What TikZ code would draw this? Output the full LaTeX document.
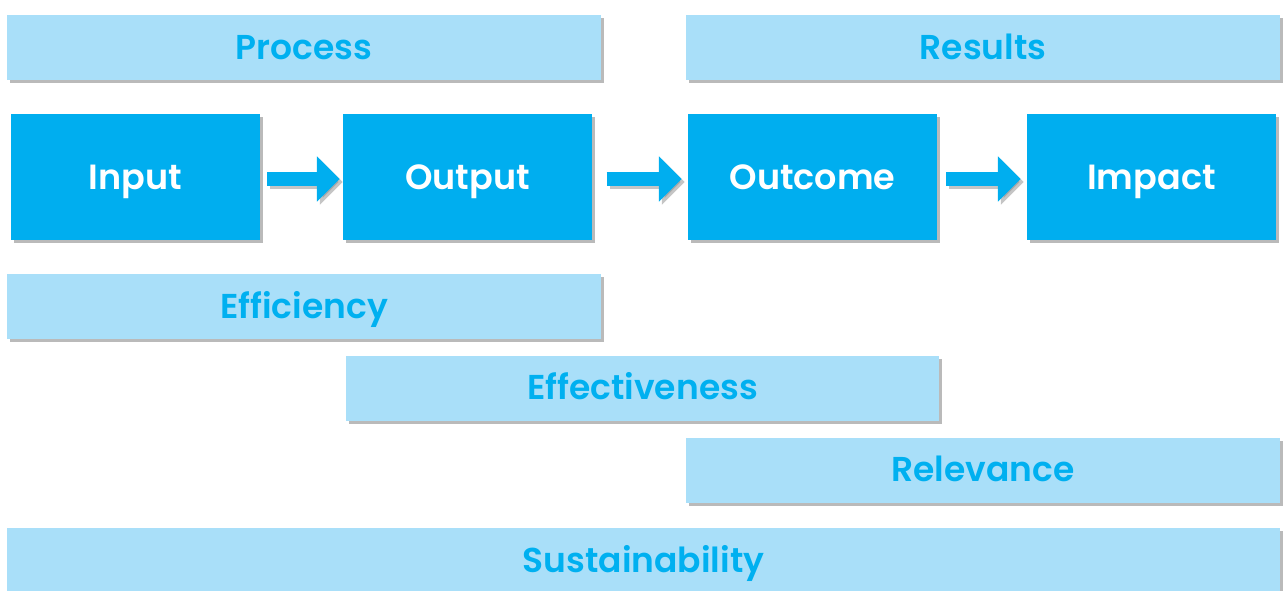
\documentclass[tikz,border=0pt]{standalone}
\usepackage{fontspec}
\setmainfont{Poppins}[BoldFont={Poppins SemiBold}]
\usetikzlibrary{arrows.meta,shadows}
\definecolor{boxblue}{HTML}{00AEEF}
\definecolor{bandblue}{HTML}{A9DFF9}
\definecolor{bandtext}{HTML}{00B0F0}
\tikzset{
  stagebox/.style={fill=boxblue, text=white, minimum width=249pt, minimum height=126pt,
    inner sep=0pt, text height=24pt, text depth=0pt,
    font=\bfseries\fontsize{35}{38}\selectfont,
    drop shadow={shadow xshift=3pt, shadow yshift=-3pt, fill=black!45, opacity=.6}},
  band/.style={fill=bandblue, text=bandtext, minimum height=65pt, inner sep=0pt,
    text height=23pt, text depth=0pt,
    font=\bfseries\fontsize{34.5}{37}\selectfont,
    drop shadow={shadow xshift=3pt, shadow yshift=-3pt, fill=black!45, opacity=.6}},
  blockarrow/.style={draw=boxblue, line width=14.5pt,
    -{Triangle[length=23pt,width=44pt]}},
  arrowshadow/.style={draw=black!45, opacity=.5, line width=14.5pt,
    -{Triangle[length=23pt,width=44pt]}, transform canvas={shift={(3pt,-3pt)}}}
}
\begin{document}
\begin{tikzpicture}[x=1pt,y=-1pt]
\useasboundingbox (0,0) rectangle (1286,590);
%%% top bands
\node[band, minimum width=594pt] (process) at (304,47.5) {Process};
\node[band, minimum width=594pt] (results) at (983,47.5) {Results};
%%% the chain of stages
\node[stagebox] (input) at (135.5,177) {Input};
\node[stagebox] (output) at (467.5,177) {Output};
\node[stagebox] (outcome) at (812.5,177) {Outcome};
\node[stagebox] (impact) at (1151.5,177) {Impact};
%Arrows between stages (shadow first)
\draw[arrowshadow, shorten <=7pt, shorten >=3pt] ([yshift=-2pt]input.east) -- ([yshift=-2pt]output.west);
\draw[arrowshadow, shorten <=14.5pt, shorten >=6pt] ([yshift=-2pt]output.east) -- ([yshift=-2pt]outcome.west);
\draw[arrowshadow, shorten <=9pt, shorten >=6pt] ([yshift=-2pt]outcome.east) -- ([yshift=-2pt]impact.west);
\draw[blockarrow, shorten <=7pt, shorten >=3pt] ([yshift=-2pt]input.east) -- ([yshift=-2pt]output.west);
\draw[blockarrow, shorten <=14.5pt, shorten >=6pt] ([yshift=-2pt]output.east) -- ([yshift=-2pt]outcome.west);
\draw[blockarrow, shorten <=9pt, shorten >=6pt] ([yshift=-2pt]outcome.east) -- ([yshift=-2pt]impact.west);
%%% criteria bands
\node[band, minimum width=594pt] (efficiency) at (304,306.5) {Efficiency};
\node[band, minimum width=593pt] (effectiveness) at (642.5,388) {Effectiveness};
\node[band, minimum width=594pt] (relevance) at (983,470) {Relevance};
\node[band, minimum width=1273pt] (sustainability) at (643.5,560.5) {Sustainability};
\end{tikzpicture}
\end{document}
